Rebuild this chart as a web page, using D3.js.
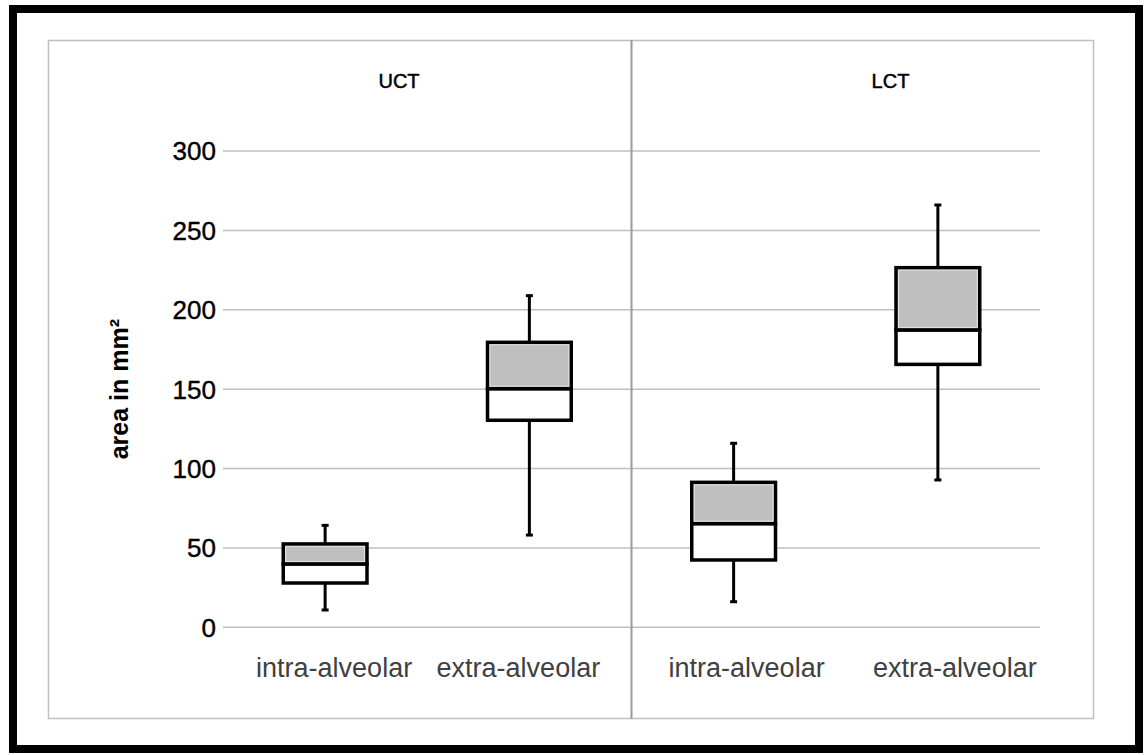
<!DOCTYPE html>
<html lang="en">
<head>
    <meta charset="UTF-8">
    <title>Area box plot</title>
    <script src="https://cdn.jsdelivr.net/npm/d3@7"></script>
    <style>
        body { margin: 0; background: #fff; }
        text { font-family: "Liberation Sans", Arial, sans-serif; }
    </style>
</head>
<body>
    <div id="chart"></div>
    <script>
        // data (order: UCT intra, UCT extra, LCT intra, LCT extra)
        var panels = ["UCT", "LCT"];
        var categories = ["intra-alveolar", "extra-alveolar"];
        var whiskerLow  = [10.9, 58.1, 16.1, 92.8];
        var q1          = [27.9, 130.4, 42.4, 165.6];
        var median      = [39.9, 150.3, 65.3, 187.3];
        var q3          = [52.5, 179.5, 91.3, 226.5];
        var whiskerHigh = [64.2, 208.9, 115.9, 266.0];
        var yTicks = [0, 50, 100, 150, 200, 250, 300];

        var w = 1148, h = 755;

        // layout tweaks (px)
        var titleOffset = [176, 259];       // panel title centre, from panel left
        var labelShift = [9, -11, 13, 17];  // x label nudge from box centre

        var svg = d3.select("#chart")
            .append("svg")
            .attr("width", w)
            .attr("height", h);

        // outer black frame
        svg.append("rect")
            .attr("x", 13).attr("y", 9)
            .attr("width", 1126).attr("height", 740)
            .attr("fill", "none")
            .attr("stroke", "#000")
            .attr("stroke-width", 8);

        // inner gray frame
        svg.append("rect")
            .attr("x", 48.5).attr("y", 40.5)
            .attr("width", 1045).attr("height", 678)
            .attr("fill", "none")
            .attr("stroke", "#c0c0c0")
            .attr("stroke-width", 1.5);

        var y = d3.scaleLinear().domain([0, 300]).range([627.3, 151]);

        var panelX = d3.scaleBand().domain(panels).range([223, 1040]);
        var catX = d3.scaleBand().domain(categories).range([0, panelX.bandwidth()]);

        // gridlines
        svg.selectAll(".grid")
            .data(yTicks)
            .enter()
            .append("line")
            .attr("class", "grid")
            .attr("x1", 223).attr("x2", 1040)
            .attr("y1", function(d) {return y(d);})
            .attr("y2", function(d) {return y(d);})
            .attr("stroke", "#bfbfbf")
            .attr("stroke-width", 1.5);

        // y tick labels
        svg.selectAll(".ytick")
            .data(yTicks)
            .enter()
            .append("text")
            .attr("class", "ytick")
            .attr("x", 216)
            .attr("y", function(d) {return y(d);})
            .attr("dy", "0.36em")
            .attr("text-anchor", "end")
            .attr("font-size", "26px")
            .attr("fill", "#000")
            .attr("stroke", "#000")
            .attr("stroke-width", 0.4)
            .text(function(d) {return d;});

        // y title
        svg.append("text")
            .attr("transform", "translate(128," + y(150) + ") rotate(-90)")
            .attr("text-anchor", "middle")
            .attr("font-size", "25px")
            .attr("font-weight", "bold")
            .text("area in mm²");

        // panel divider
        svg.append("line")
            .attr("x1", panelX("LCT")).attr("x2", panelX("LCT"))
            .attr("y1", 40).attr("y2", 719)
            .attr("stroke", "#9a9a9a")
            .attr("stroke-width", 2);

        // panel titles
        svg.selectAll(".ptitle")
            .data(panels)
            .enter()
            .append("text")
            .attr("class", "ptitle")
            .attr("x", function(d, i) {return panelX(d) + titleOffset[i];})
            .attr("y", 88)
            .attr("text-anchor", "middle")
            .attr("font-size", "20px")
            .attr("stroke", "#000")
            .attr("stroke-width", 0.5)
            .text(function(d) {return d;});

        // box data
        var boxes = [];
        panels.forEach(function(p, pi) {
            categories.forEach(function(c, ci) {
                var i = pi * categories.length + ci;
                boxes.push({
                    idx: i, cat: c,
                    cx: panelX(p) + catX(c) + catX.bandwidth() / 2,
                    lo: whiskerLow[i], q1: q1[i], med: median[i], q3: q3[i], hi: whiskerHigh[i]
                });
            });
        });

        // x labels
        svg.selectAll(".xlab")
            .data(boxes)
            .enter()
            .append("text")
            .attr("class", "xlab")
            .attr("x", function(d) {return d.cx + labelShift[d.idx];})
            .attr("y", 677)
            .attr("text-anchor", "middle")
            .attr("font-size", "27px")
            .attr("fill", "#404040")
            .text(function(d) {return d.cat;});

        var bw = catX.bandwidth() * 0.41;
        var capW = 7;

        var g = svg.selectAll(".box")
            .data(boxes)
            .enter()
            .append("g")
            .attr("class", "box");

        // whiskers
        g.append("line")
            .attr("x1", function(d) {return d.cx;})
            .attr("x2", function(d) {return d.cx;})
            .attr("y1", function(d) {return y(d.hi);})
            .attr("y2", function(d) {return y(d.q3);})
            .attr("stroke", "#000").attr("stroke-width", 3);
        g.append("line")
            .attr("x1", function(d) {return d.cx;})
            .attr("x2", function(d) {return d.cx;})
            .attr("y1", function(d) {return y(d.q1);})
            .attr("y2", function(d) {return y(d.lo);})
            .attr("stroke", "#000").attr("stroke-width", 3);
        // caps
        g.selectAll(".cap")
            .data(function(d) {return [{cx: d.cx, v: d.hi}, {cx: d.cx, v: d.lo}];})
            .enter()
            .append("line")
            .attr("class", "cap")
            .attr("x1", function(d) {return d.cx - capW / 2;})
            .attr("x2", function(d) {return d.cx + capW / 2;})
            .attr("y1", function(d) {return y(d.v);})
            .attr("y2", function(d) {return y(d.v);})
            .attr("stroke", "#000").attr("stroke-width", 3);

        // lower box (white)
        g.append("rect")
            .attr("x", function(d) {return d.cx - bw / 2;})
            .attr("y", function(d) {return y(d.med);})
            .attr("width", bw)
            .attr("height", function(d) {return y(d.q1) - y(d.med);})
            .attr("fill", "#fff")
            .attr("stroke", "#000").attr("stroke-width", 3.5);
        // upper box (gray)
        g.append("rect")
            .attr("x", function(d) {return d.cx - bw / 2;})
            .attr("y", function(d) {return y(d.q3);})
            .attr("width", bw)
            .attr("height", function(d) {return y(d.med) - y(d.q3);})
            .attr("fill", "#c0bfc0")
            .attr("stroke", "#000").attr("stroke-width", 3.5);
        // light inner edge of the gray part
        g.append("rect")
            .attr("x", function(d) {return d.cx - bw / 2 + 2.5;})
            .attr("y", function(d) {return y(d.q3) + 2.5;})
            .attr("width", bw - 5)
            .attr("height", function(d) {return y(d.med) - y(d.q3) - 5;})
            .attr("fill", "none")
            .attr("stroke", "#e2e2e2").attr("stroke-width", 1);
    </script>
</body>
</html>
